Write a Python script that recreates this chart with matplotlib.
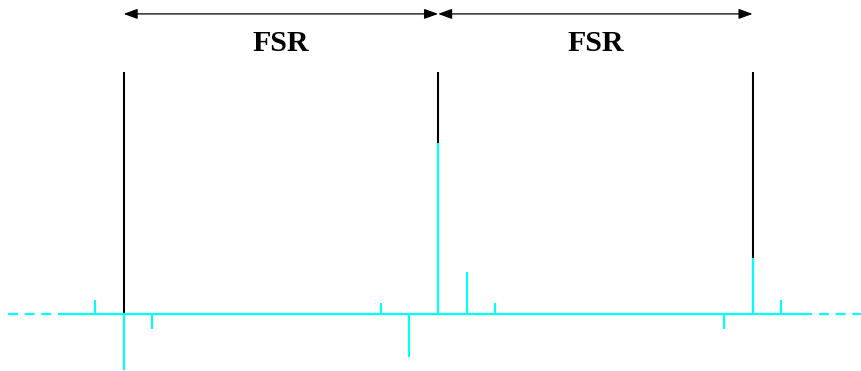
import numpy as np
import matplotlib
matplotlib.use("Agg")
from matplotlib import pyplot as plt

# comb positions in units of FSR, relative amplitudes
comb_pos = [0.0, 1.0, 2.0]
comb_height = [1.0, 1.0, 1.0]

# cyan spectral lines: position (FSR units) and signed amplitude
line_pos = [-1/11, 0.0, 1/11, 1 - 2/11, 1 - 1/11, 1.0, 1 + 1/11, 1 + 2/11,
            2 - 1/11, 2.0, 2 + 1/11]
line_amp = [0.058, -0.231, -0.062, 0.045, -0.178, 0.707, 0.174, 0.045,
            -0.062, 0.231, 0.058]

fsr_labels = ["FSR", "FSR"]

cyan = "#00ffff"

fig = plt.figure(figsize=(8.62, 3.71), dpi=100)
ax = fig.add_axes([0, 0, 1, 1])
ax.set_xlim(-0.393, 2.348)
ax.set_ylim(-0.2355, 1.2975)
ax.axis("off")

# black comb
ax.vlines(comb_pos, 0, comb_height, color="black", lw=1.5, zorder=1)

# baseline: solid in the middle, dashed towards the edges
ax.plot([-0.366, -0.178], [0, 0], color=cyan, lw=1.6, dashes=(4.5, 3), zorder=2)
ax.plot([-0.178, 2.187], [0, 0], color=cyan, lw=1.6, zorder=2)
ax.plot([2.212, 2.35], [0, 0], color=cyan, lw=1.6, dashes=(4.5, 3), zorder=2)

# spectral lines
ax.vlines(line_pos, 0, line_amp, color=cyan, lw=1.5, zorder=3)

# FSR arrows and labels
for i, lab in enumerate(fsr_labels):
    x0, x1 = comb_pos[i], comb_pos[i + 1]
    ax.annotate("", xy=(x1, 1.24), xytext=(x0, 1.24),
                arrowprops=dict(arrowstyle="<|-|>,head_length=0.6,head_width=0.22",
                                color="black", lw=0.9, shrinkA=0, shrinkB=0,
                                mutation_scale=14))
    ax.text((x0 + x1) / 2, 1.116, lab, ha="center", va="center",
            fontsize=21.5, fontweight="bold", family="Liberation Serif")

fig.savefig("out.png", dpi=100)
